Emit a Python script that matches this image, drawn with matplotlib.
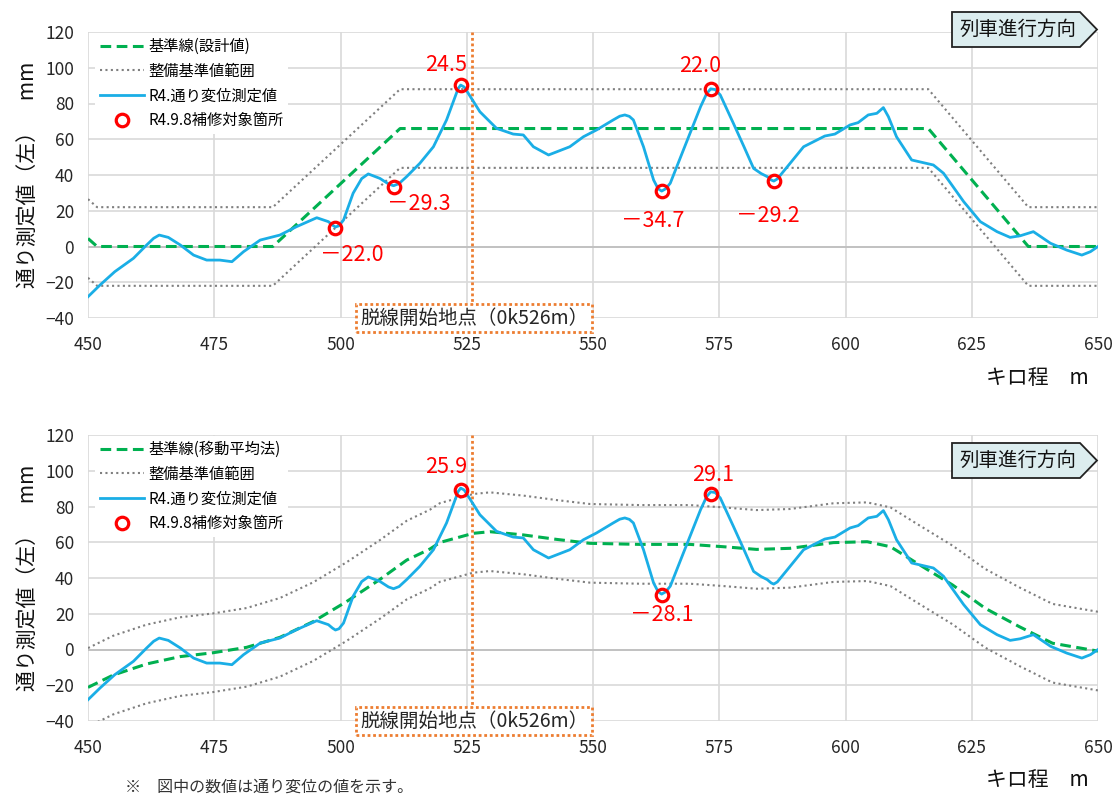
import matplotlib
matplotlib.use('Agg')
import matplotlib.pyplot as plt
from matplotlib.patches import Polygon
import numpy as np

plt.rcParams['font.family'] = ['Noto Sans CJK JP', 'DejaVu Sans']

# measured alignment (R4)
km = [450.0, 452.4, 455.3, 459.0, 461.6, 463.0, 464.1, 465.9, 468.3, 470.9,
      473.5, 476.1, 478.5, 480.8, 484.1, 488.0, 491.3, 495.3, 497.6, 498.4,
      499.0, 499.7, 500.6, 502.5, 504.2, 505.5, 507.8, 509.5, 510.5, 511.6,
      513.1, 515.7, 518.4, 521.0, 522.4, 523.3, 523.8, 524.5, 525.3, 527.6,
      530.9, 534.2, 536.2, 538.2, 541.2, 545.4, 548.1, 550.7, 554.0, 555.3,
      556.3, 557.2, 558.0, 560.0, 562.0, 562.9, 563.6, 564.4, 565.3, 567.9,
      571.3, 572.5, 573.3, 574.2, 575.2, 577.8, 579.9, 581.8, 583.3, 584.5,
      585.3, 585.8, 586.5, 588.5, 591.7, 595.9, 597.9, 600.9, 602.5, 604.5,
      606.2, 607.5, 608.5, 610.1, 613.1, 617.4, 619.4, 623.4, 626.7, 630.0,
      632.6, 634.6, 637.2, 640.6, 643.8, 646.8, 648.5, 650.0]
measured = [-28.1, -21.5, -14.1, -6.6, 0.8, 4.6, 6.4, 5.1, 0.8, -4.8,
            -7.6, -7.6, -8.5, -2.9, 3.6, 6.4, 11.1, 16.1, 13.9, 12.0,
            10.9, 11.6, 14.8, 29.8, 38.0, 40.6, 38.1, 35.0, 34.0, 35.2,
            39.1, 46.5, 55.8, 70.8, 81.5, 88.4, 90.3, 89.2, 85.7, 75.4,
            66.1, 62.9, 62.4, 55.8, 51.2, 55.8, 61.4, 65.2, 70.8, 72.9,
            73.6, 72.8, 70.8, 55.8, 37.2, 32.3, 31.0, 32.3, 35.4, 54.0,
            78.2, 85.5, 88.2, 87.8, 84.8, 68.9, 55.8, 43.7, 40.8, 39.1,
            37.2, 36.6, 37.8, 44.7, 55.8, 61.8, 62.9, 68.0, 69.3, 73.6,
            74.5, 77.7, 72.6, 61.4, 48.4, 45.6, 41.0, 25.1, 13.9, 8.3,
            5.1, 6.0, 8.3, 1.8, -2.0, -4.8, -2.9, 0.0]

# design baseline (設計値)
design_km = [450.0, 451.8, 486.6, 511.8, 616.4, 636.2, 650.0]
design_val = [4.5, 0.0, 0.0, 66.0, 66.0, 0.0, 0.0]

# moving-average baseline (移動平均法)
mavg_km = [450.0, 455.0, 461.6, 468.2, 474.8, 481.4, 488.0, 494.6, 501.2, 507.8,
           513.1, 517.7, 519.7, 526.3, 529.6, 536.2, 542.8, 549.4, 559.3, 569.2,
           575.8, 582.4, 589.0, 597.6, 604.3, 608.9, 614.2, 621.2, 627.7, 634.4,
           641.0, 650.0]
mavg_val = [-21.2, -14.3, -8.1, -4.0, -1.8, 1.2, 6.8, 15.6, 26.8, 39.2,
            50.0, 56.2, 59.9, 65.0, 65.9, 64.1, 61.6, 59.4, 58.8, 58.8,
            57.5, 56.0, 56.6, 59.8, 60.3, 57.5, 48.2, 36.1, 23.0, 12.8,
            3.5, -0.9]

tolerance = 22.0  # 整備基準値 (±mm)

# repair points (R4.9.8) and their displacement from the baseline
top_pts_km = [499.0, 510.5, 523.8, 563.6, 573.3, 585.8]
top_pts_val = [-22.0, -29.3, 24.5, -34.7, 22.0, -29.2]
top_lbl_xy = [(502.2, -4.8), (515.5, 23.8), (520.9, 101.5),
              (561.9, 14.3), (571.2, 101.0), (584.6, 17.1)]

bot_pts_km = [523.8, 563.6, 573.3]
bot_pts_val = [25.9, -28.1, 29.1]
bot_lbl_xy = [(520.9, 102.1), (563.6, 19.3), (573.8, 97.6)]

derail_km = 526

GREEN = '#00B050'
GRAY = '#7f7f7f'
BLUE = '#1AAEE6'
RED = '#FF0000'
ORANGE = '#ED7D31'

W, H = 1115, 798
fig = plt.figure(figsize=(W / 100, H / 100), dpi=100)


def fy(py):
    return 1 - py / H


def draw_panel(ax_top_px, base_km, base_val, base_label, pts_km, pts_val, lbl_xy):
    ax = fig.add_axes([88 / W, fy(ax_top_px + 286), 1010 / W, 286 / H])
    ax.set_xlim(450, 650)
    ax.set_ylim(-40, 120)
    ax.set_xticks(np.arange(450, 651, 25))
    ax.set_yticks(np.arange(-40, 121, 20))
    ax.grid(True, color='#d9d9d9', lw=1.2)
    ax.set_axisbelow(True)
    for s in ax.spines.values():
        s.set_visible(False)
    ax.tick_params(length=0, labelsize=12.5, colors='#262626', pad=10)
    ax.tick_params(axis='x', pad=13)
    ax.axhline(0, color='#bfbfbf', lw=1.3, zorder=1)

    base_km = np.array(base_km)
    base_val = np.array(base_val)
    ax.plot(base_km, base_val, color=GREEN, lw=2.2, ls=(0, (3.5, 1.8)),
            label=base_label, zorder=3)
    ax.plot(base_km, base_val + tolerance, color=GRAY, lw=1.5, ls=(0, (1, 1.6)),
            label='整備基準値範囲', zorder=2)
    ax.plot(base_km, base_val - tolerance, color=GRAY, lw=1.5, ls=(0, (1, 1.6)),
            zorder=2)
    ax.plot(km, measured, color=BLUE, lw=2.0, label='R4.通り変位測定値', zorder=4,
            solid_joinstyle='round')

    pts_y = np.interp(pts_km, base_km, base_val) + np.array(pts_val)
    ax.plot(pts_km, pts_y, 'o', ms=9, mfc='none', mec=RED, mew=2.3,
            label='R4.9.8補修対象箇所', zorder=5)
    for v, (tx, ty) in zip(pts_val, lbl_xy):
        txt = f'{v:.1f}' if v > 0 else f'－{abs(v):.1f}'
        ax.text(tx, ty, txt, color=RED, fontsize=15.5, ha='center', va='center',
                zorder=6)

    ax.axvline(derail_km, color=ORANGE, lw=2, ls=(0, (1, 1)), zorder=3)
    ax.text(derail_km + 0.5, -40, '脱線開始地点（0k526m）', fontsize=14, ha='center',
            va='center', color='#262626', zorder=7, clip_on=False,
            bbox=dict(boxstyle='square,pad=0.2', fc='white', ec=ORANGE,
                      ls=(0, (1, 1)), lw=2))

    leg = ax.legend(loc='upper left', bbox_to_anchor=(0.007, 0.995),
                    borderaxespad=0, fontsize=11, frameon=True, fancybox=False,
                    handlelength=2.9, handletextpad=0.3, labelspacing=0.5,
                    numpoints=1, borderpad=0.3)
    leg.get_frame().set_edgecolor('none')
    leg.get_frame().set_facecolor('white')
    leg.get_frame().set_alpha(1)
    return ax


def draw_direction(y0):
    pts = [(952, y0), (1080, y0), (1097, y0 + 17.5), (1080, y0 + 35), (952, y0 + 35)]
    poly = Polygon([(x / W, fy(y)) for x, y in pts], closed=True,
                   transform=fig.transFigure, fc='#dcedef', ec='#222222', lw=1.3,
                   zorder=10)
    fig.patches.append(poly)
    fig.text(1018 / W, fy(y0 + 17.5), '列車進行方向', fontsize=14, ha='center',
             va='center', color='#111111', zorder=11)


draw_panel(32, design_km, design_val, '基準線(設計値)',
           top_pts_km, top_pts_val, top_lbl_xy)
draw_panel(435, mavg_km, mavg_val, '基準線(移動平均法)',
           bot_pts_km, bot_pts_val, bot_lbl_xy)

ylab = '通り測定値（左）　mm'
fig.text(28 / W, fy(175), ylab, rotation=90, fontsize=15, ha='center',
         va='center', color='#111111')
fig.text(28 / W, fy(578), ylab, rotation=90, fontsize=15, ha='center',
         va='center', color='#111111')
fig.text(1037 / W, fy(378), 'キロ程　m', fontsize=15, ha='center', va='center',
         color='#111111')
fig.text(1037 / W, fy(780), 'キロ程　m', fontsize=15, ha='center', va='center',
         color='#111111')

draw_direction(12)
draw_direction(443)

fig.text(125 / W, fy(787), '※　図中の数値は通り変位の値を示す。', fontsize=11.5,
         ha='left', va='center', color='#333333')

fig.savefig('out.png', dpi=100, facecolor='white')
